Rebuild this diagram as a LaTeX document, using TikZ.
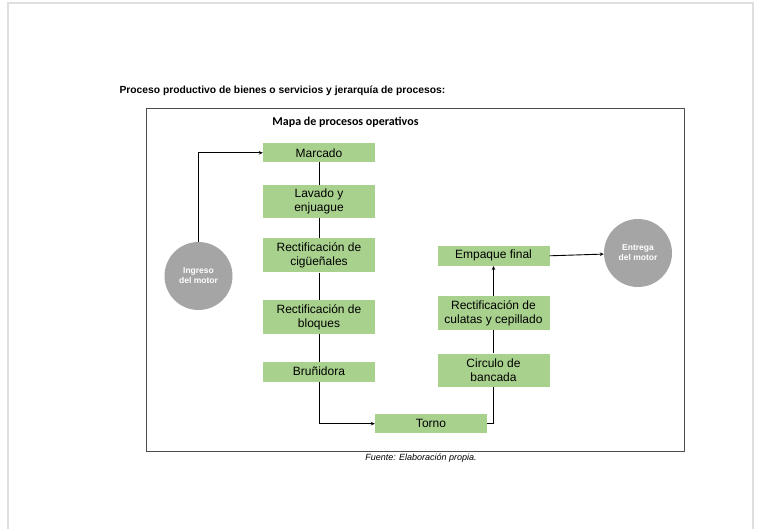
\documentclass[tikz,border=0pt]{standalone}
\usepackage{fontspec}
\setmainfont{Liberation Sans}
\newfontfamily\calibri{Carlito}
\usetikzlibrary{arrows.meta}
\definecolor{boxgreen}{HTML}{A9D18E}
\definecolor{circgray}{HTML}{A5A5A5}
\tikzset{
  procbox/.style={fill=boxgreen, minimum width=112pt, inner sep=0pt, align=center, font=\fontsize{12}{13.7}\selectfont},
  motorcirc/.style={circle, fill=circgray, minimum size=68pt, inner sep=0pt, align=center, text=white, font=\fontsize{8.5}{10}\selectfont\bfseries},
  flow/.style={-{Stealth[length=4pt,width=3.5pt]}, line width=0.9pt},
  link/.style={line width=0.9pt}
}
\begin{document}
\begin{tikzpicture}[x=1pt,y=-1pt]
\useasboundingbox (0,0) rectangle (759,529);
\def\lx{319}
\def\rx{493.5}
\draw [gray!25, line width=2pt] (8,529) -- (8,3) -- (753,3) -- (753,529);
\node[anchor=west, font=\fontsize{10.3}{12}\selectfont\bfseries] (title) at (116,91) {Proceso productivo de bienes o servicios y jerarquía de procesos:};
\draw [black!70, line width=0.8pt] (146,108.5) rectangle (684,451);
\node[font=\calibri\fontsize{12}{14}\selectfont\bfseries] (mapa) at (345.5,122) {Mapa de procesos operativos};
\node[font=\fontsize{9}{11}\selectfont\itshape] (fuente) at (421,458) {Fuente: Elaboración propia.};

% process boxes
\node[procbox, minimum height=19pt] (marc) at (\lx,152.8) {Marcado};
\node[procbox, minimum height=33pt] (lav) at (\lx,201.7) {Lavado y\\enjuague};
\node[procbox, minimum height=34pt] (cig) at (\lx,255.3) {Rectificación de\\cigüeñales};
\node[procbox, minimum height=34pt] (bloq) at (\lx,317) {Rectificación de\\bloques};
\node[procbox, minimum height=20pt] (brun) at (\lx,371.7) {Bruñidora};
\node[procbox, minimum height=19.5pt] (torno) at (431,423.7) {Torno};
\node[procbox, minimum height=33pt] (circb) at (\rx,370) {Circulo de\\bancada};
\node[procbox, minimum height=34pt] (cul) at (\rx,313) {Rectificación de\\culatas y cepillado};
\node[procbox, minimum height=20pt] (emp) at (\rx,255.8) {Empaque final};
\node[motorcirc] (ing) at (198.5,276) {Ingreso\\del motor};
\node[motorcirc] (ent) at (638,253) {Entrega\\del motor};

% edges
\draw[flow] (ing.north) |- (marc.west); % ingreso to marcado
\draw[link] (marc) -- (lav);
\draw[link] (lav) -- (cig);
\draw[link] (cig) -- (bloq);
\draw[link] (bloq) -- (brun);
\draw[flow] (brun.south) |- (torno.west); % brunidora to torno
\draw[link] (torno.east) -| (circb.south); % torno to circulo
\draw[link] (circb) -- (cul);
\draw[flow] (cul.north) -- (emp.south);
\draw[flow] (emp.east) -- (ent); % empaque to entrega
\end{tikzpicture}
\end{document}
